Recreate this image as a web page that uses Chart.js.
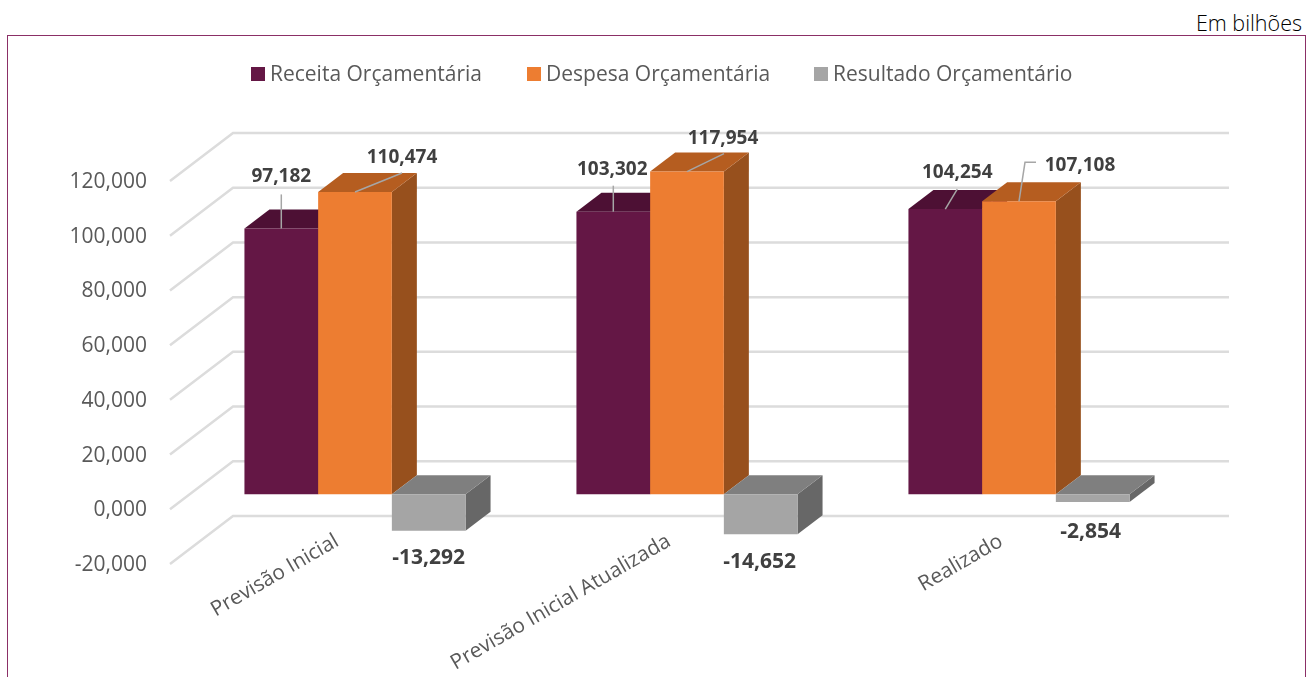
<!DOCTYPE html>
<html lang="pt">
<head>
<meta charset="utf-8">
<title>Resultado Orçamentário</title>
<script src="https://cdn.jsdelivr.net/npm/chart.js@4"></script>
<style>
    html, body { margin: 0; height: 100%; overflow: hidden; background: #fff; }
    #frame { position: absolute; left: 7px; top: 35px; width: 1297px; height: 700px; border: 1px solid #8B2F66; }
    #unit { position: absolute; right: 12px; top: 8px; font: 300 21.5px "Open Sans", sans-serif; color: #000; }
    #chart { position: absolute; left: 0; top: 0; }
</style>
</head>
<body>
<div id="frame"></div>
<div id="unit">Em bilhões</div>
<canvas id="chart" width="1314" height="677"></canvas>
<script>
const categories = ['Previsão Inicial', 'Previsão Inicial Atualizada', 'Realizado'];
const seriesNames = ['Receita Orçamentária', 'Despesa Orçamentária', 'Resultado Orçamentário'];
const receita = [97.182, 103.302, 104.254];
const despesa = [110.474, 117.954, 107.108];
const resultado = [-13.292, -14.652, -2.854];
const yTicks = [-20, 0, 20, 40, 60, 80, 100, 120];

const frontColors = ['#641745', '#ED7D31', '#A5A5A5'];
const topColors = ['#4D1034', '#B55D20', '#7F7F7F'];
const sideColors = ['#4D1034', '#97501D', '#676767'];
const labelSizes = [19, 19, 21];

// legend box x positions
const legendX = [251, 527, 814];

// label offset from the bar top centre, then the leader line, per series and category
const labelOffsets = [
    [[0, -52], [-1, -42], [12, -36]],
    [[47, -34], [36, -33], [61, -36]],
    [[0, 27], [-1, 28], [-2, 30]]
];
const leaders = [
    [[[0, 0], [0, -34]], [[0, 0], [0, -26]], [[0, 0], [12, -20]]],
    [[[0, 0], [47, -19]], [[0, 0], [37, -18]], [[0, 0], [6, -39], [17, -39]]],
    [[], [], []]
];

const DEPTH_X = 25;
const DEPTH_Y = 19;
const BACK_X = 44;
const BACK_Y = 33;
const FLOOR_X = 63;
const FLOOR_Y = 48;

const formatValue = v => v.toFixed(3).replace('.', ',');

function face(ctx, color, points) {
    ctx.fillStyle = color;
    ctx.beginPath();
    points.forEach((p, i) => i ? ctx.lineTo(p[0], p[1]) : ctx.moveTo(p[0], p[1]));
    ctx.closePath();
    ctx.fill();
}

const walls = {
    id: 'walls',
    // rotated labels start above the plot bottom, the axis box clips them otherwise
    afterLayout(chart) {
        chart.scales.x.top -= 40;
    },
    beforeDatasetsDraw(chart) {
        const { ctx, chartArea, scales } = chart;
        ctx.save();
        ctx.strokeStyle = '#DCDCDC';
        ctx.lineWidth = 2.5;
        yTicks.forEach(t => {
            const y = scales.y.getPixelForValue(t) - BACK_Y;
            const x0 = chartArea.left + BACK_X;
            ctx.beginPath();
            ctx.moveTo(x0 - FLOOR_X, y + FLOOR_Y);
            ctx.lineTo(x0, y);
            ctx.lineTo(chartArea.right + BACK_X, y);
            ctx.stroke();
        });
        ctx.restore();
    }
};

const bars3d = {
    id: 'bars3d',
    // the library draws the last dataset first, here the first one has to go first
    beforeDatasetDraw() {
        return false;
    },
    afterDatasetsDraw(chart) {
        const { ctx } = chart;
        categories.forEach((c, i) => {
            chart.data.datasets.forEach((ds, s) => {
                const bar = chart.getDatasetMeta(s).data[i];
                const left = bar.x - bar.width / 2;
                const right = bar.x + bar.width / 2;
                const top = Math.min(bar.y, bar.base);
                const bottom = Math.max(bar.y, bar.base);
                face(ctx, sideColors[s], [[right, top], [right + DEPTH_X, top - DEPTH_Y], [right + DEPTH_X, bottom - DEPTH_Y], [right, bottom]]);
                face(ctx, topColors[s], [[left, top], [left + DEPTH_X, top - DEPTH_Y], [right + DEPTH_X, top - DEPTH_Y], [right, top]]);
                bar.draw(ctx);
            });
        });
        ctx.save();
        ctx.textAlign = 'center';
        ctx.textBaseline = 'middle';
        chart.data.datasets.forEach((ds, s) => {
            ctx.font = 'bold ' + labelSizes[s] + 'px "Open Sans"';
            ds.data.forEach((v, i) => {
                const bar = chart.getDatasetMeta(s).data[i];
                const line = leaders[s][i];
                if (line.length) {
                    ctx.strokeStyle = '#A6A6A6';
                    ctx.lineWidth = 1.5;
                    ctx.beginPath();
                    line.forEach((p, n) => n ? ctx.lineTo(bar.x + p[0], bar.y + p[1]) : ctx.moveTo(bar.x + p[0], bar.y + p[1]));
                    ctx.stroke();
                }
                ctx.fillStyle = '#404040';
                ctx.fillText(formatValue(v), bar.x + labelOffsets[s][i][0], bar.y + labelOffsets[s][i][1]);
            });
        });
        ctx.restore();
    }
};

const legend3d = {
    id: 'legend3d',
    afterDraw(chart) {
        const { ctx } = chart;
        ctx.save();
        ctx.font = '21px "Open Sans"';
        ctx.textBaseline = 'middle';
        seriesNames.forEach((name, s) => {
            ctx.fillStyle = frontColors[s];
            ctx.fillRect(legendX[s], 67, 14, 14);
            ctx.fillStyle = '#595959';
            ctx.fillText(name, legendX[s] + 19, 75);
        });
        ctx.restore();
    }
};

new Chart(document.getElementById('chart'), {
    type: 'bar',
    data: {
        labels: categories,
        datasets: [
            { label: seriesNames[0], data: receita, backgroundColor: frontColors[0] },
            { label: seriesNames[1], data: despesa, backgroundColor: frontColors[1] },
            { label: seriesNames[2], data: resultado, backgroundColor: frontColors[2] }
        ]
    },
    plugins: [walls, bars3d, legend3d],
    options: {
        responsive: false,
        animation: false,
        layout: { padding: { left: 0, right: 129, top: 166, bottom: 0 } },
        datasets: { bar: { categoryPercentage: 0.666, barPercentage: 1 } },
        plugins: { legend: { display: false }, tooltip: { enabled: false } },
        scales: {
            x: {
                afterFit: scale => { scale.height = 128; },
                grid: { display: false },
                border: { display: false },
                ticks: {
                    autoSkip: false,
                    minRotation: 30,
                    maxRotation: 30,
                    padding: 12,
                    labelOffset: -18,
                    color: '#595959',
                    font: { family: 'Open Sans', size: 20.8 }
                }
            },
            y: {
                min: -20,
                max: 120,
                afterFit: scale => { scale.width = 189; },
                afterBuildTicks: scale => { scale.ticks = yTicks.map(value => ({ value })); },
                grid: { display: false },
                border: { display: false },
                ticks: {
                    padding: 34,
                    labelOffset: 16,
                    color: '#595959',
                    font: { family: 'Open Sans', size: 21 },
                    callback: v => formatValue(v)
                }
            }
        }
    }
});
</script>
</body>
</html>
